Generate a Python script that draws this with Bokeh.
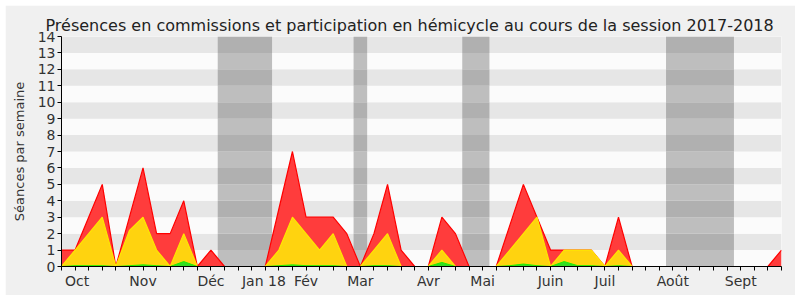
from bokeh.plotting import figure
from bokeh.models import FixedTicker, Range1d
from bokeh.embed import file_html
from bokeh.resources import INLINE

# ---- data ----
weeks = list(range(54))
red = [1, 1, 3, 5, 0, 3, 6, 2, 2, 4, 0, 1, 0, 0, 0, 0, 3.5, 7, 3, 3,
       3, 2, 0, 2, 5, 1, 0, 0, 3, 2, 0, 0, 0, 2.5, 5, 3, 1, 1, 1, 1,
       0, 3, 0, 0, 0, 0, 0, 0, 0, 0, 0, 0, 0, 1]
yellow = [0, 1, 2, 3, 0, 2.2, 3, 1, 0, 2, 0, 0, 0, 0, 0, 0, 1, 3, 2, 1,
          2, 0, 0, 1, 2, 0, 0, 0, 1, 0, 0, 0, 0, 1, 2, 3, 0, 1, 1, 1,
          0, 1, 0, 0, 0, 0, 0, 0, 0, 0, 0, 0, 0, 0]
green = [0, 0.05, 0.05, 0.05, 0, 0.05, 0.1, 0.05, 0, 0.3, 0, 0, 0, 0, 0, 0, 0.05, 0.1, 0.05, 0.05,
         0.05, 0, 0, 0.05, 0.05, 0, 0, 0, 0.25, 0, 0, 0, 0, 0.05, 0.15, 0.05, 0, 0.3, 0.05, 0.05,
         0, 0.05, 0, 0, 0, 0, 0, 0, 0, 0, 0, 0, 0, 0]
vac_start = [11.5, 21.5, 29.5, 44.5]
vac_end = [15.5, 22.5, 31.5, 49.5]
month_pos = [1.15, 6.0, 11.0, 14.9, 18.0, 22.0, 27.0, 31.0, 36.0, 40.0, 45.0, 50.0]
month_labels = ["Oct", "Nov", "Déc", "Jan 18", "Fév", "Mar", "Avr", "Mai", "Juin", "Juil", "Août", "Sept"]
y_ticks = list(range(15))

FONT = "DejaVu Sans"

p = figure(width=790, height=290, output_backend="svg", toolbar_location=None,
           x_range=Range1d(0, 53), y_range=Range1d(0, 14),
           min_border_left=56, min_border_right=14, min_border_top=31, min_border_bottom=29,
           title="Présences en commissions et participation en hémicycle au cours de la session 2017-2018")
p.margin = (5, 5, 5, 5)
p.styles = {"border-radius": "6px"}
p.border_fill_color = "#f0f0f0"
p.background_fill_color = "#fbfbfb"
p.outline_line_color = None
p.grid.visible = False

p.title.text_font = FONT
p.title.text_font_size = "16px"
p.title.text_font_style = "normal"
p.title.text_color = "#222222"
p.title.align = "left"
p.title.offset = -16
p.title.standoff = 4

# horizontal stripes
rows = y_ticks[:-1]
p.quad(left=0, right=53, bottom=rows, top=[r + 1 for r in rows],
       fill_color=["#e6e6e6" if r % 2 else "#fbfbfb" for r in rows], line_color=None)

# vacation bands
vl, vr, vb, vt, vc = [], [], [], [], []
for s, e in zip(vac_start, vac_end):
    for r in rows:
        vl.append(s); vr.append(e); vb.append(r); vt.append(r + 1)
        vc.append("#b0b0b0" if r % 2 else "#bebebe")
p.quad(left=vl, right=vr, bottom=vb, top=vt, fill_color=vc, line_color=None)

# areas
p.varea(x=weeks, y1=0, y2=red, fill_color="#ff3c3c")
p.line(weeks, red, line_color="#ff0000", line_width=1.2)
p.varea(x=weeks, y1=0, y2=yellow, fill_color="#ffd30f")
p.line(weeks, yellow, line_color="#ffe600", line_width=1.2)
p.varea(x=weeks, y1=0, y2=green, fill_color="#33dd22")
p.line(weeks, green, line_color="#22ee00", line_width=1)

# axes
p.xaxis.ticker = FixedTicker(ticks=month_pos, minor_ticks=weeks)
p.xaxis.major_label_overrides = {pos: lab for pos, lab in zip(month_pos, month_labels)}
p.xaxis.major_tick_out = 0
p.xaxis.major_tick_in = 0
p.xaxis.minor_tick_out = 4
p.xaxis.minor_tick_in = 0
p.xaxis.minor_tick_line_color = "black"
p.xaxis.major_label_standoff = 2

p.yaxis.ticker = FixedTicker(ticks=y_ticks)
p.yaxis.major_tick_out = 4
p.yaxis.major_tick_in = 0
p.yaxis.minor_tick_out = 0
p.yaxis.minor_tick_in = 0
p.yaxis.major_label_standoff = 2
p.yaxis.axis_label = "Séances par semaine"
p.yaxis.axis_label_standoff = 8

for ax in (p.xaxis, p.yaxis):
    ax.axis_line_color = "black"
    ax.major_tick_line_color = "black"
    ax.major_label_text_font = FONT
    ax.major_label_text_font_size = "14px"
    ax.major_label_text_color = "#333333"
    ax.axis_label_text_font = FONT
    ax.axis_label_text_font_size = "13px"
    ax.axis_label_text_font_style = "normal"
    ax.axis_label_text_color = "#333333"

open("out.html", "w").write(file_html(p, INLINE))
